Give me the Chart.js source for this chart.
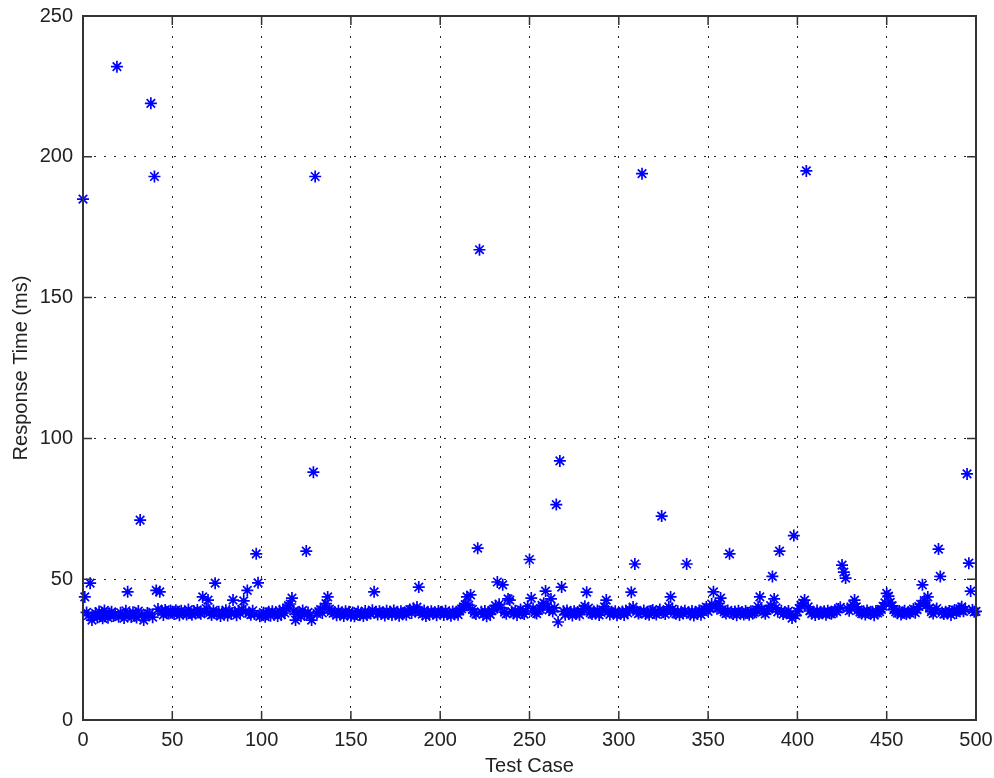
<!DOCTYPE html>
<html lang="en">
<head>
    <meta charset="UTF-8">
    <title>Response Time per Test Case</title>
    <script src="https://cdn.jsdelivr.net/npm/chart.js"></script>
    <style>
        body { margin: 0; background: #fff; }
    </style>
</head>
<body>
    <canvas id="responseChart" width="994" height="778"></canvas>

    <script>
        // response time (ms) for each test case, test case number = position in array
        const responseTimes = [
            185, 43.7, 38.2, 37.1, 48.6, 35.5, 36.8, 37.9, 36.4, 38.5, 37.2, 36.1, 38.9, 37.6, 36.3, 37.8, 38.4, 36.9, 37.3, 232, 36.7, 38.1, 37.4, 36.2, 38.8,
            45.5, 37.5, 36.6, 38.3, 37.0, 36.4, 38.7, 71, 37.2, 35.5, 36.9, 38.0, 37.7, 219, 36.5, 193, 46, 39.4, 45.5, 38.6, 37.3, 39.1, 38.2, 37.8, 38.9,
            38.1, 37.6, 39.0, 38.4, 37.2, 38.8, 37.9, 38.3, 37.5, 39.2, 38.0, 37.4, 38.6, 37.8, 39.1, 38.2, 37.7, 43.7, 38.5, 39.6, 42.6, 38.1, 37.3, 38.9, 48.6,
            37.6, 38.4, 36.9, 38.2, 37.5, 39.0, 37.1, 38.6, 37.8, 42.6, 38.3, 37.2, 38.7, 37.9, 39.3, 42.3, 38.5, 46, 38.0, 37.4, 38.8, 37.6, 59, 48.7, 36.8,
            37.2, 38.1, 36.7, 37.9, 38.4, 37.0, 38.6, 37.5, 38.2, 36.9, 38.8, 37.3, 39.1, 38.0, 39.8, 40.6, 41.2, 43.3, 38.7, 35.5, 37.6, 38.3, 36.8, 38.9, 37.4,
            60, 38.2, 37.1, 35.5, 88, 193, 37.8, 38.5, 39.2, 38.0, 40.1, 41.3, 43.7, 39.4, 38.6, 37.9, 38.3, 37.2, 38.8, 37.5, 38.1, 36.9, 38.6, 37.7, 38.4,
            37.0, 38.2, 36.8, 37.6, 38.5, 37.3, 38.0, 36.9, 38.7, 37.4, 38.1, 37.8, 39.0, 45.5, 38.3, 37.5, 38.6, 37.9, 38.2, 37.1, 38.8, 37.6, 38.4, 37.3, 38.9,
            37.7, 38.3, 37.0, 38.6, 37.9, 38.1, 37.4, 38.7, 39.2, 38.0, 39.6, 38.5, 40.1, 47.2, 38.4, 37.6, 38.9, 36.9, 38.2, 37.5, 38.6, 37.8, 38.3, 37.2, 38.7,
            37.9, 38.4, 37.3, 38.8, 37.6, 38.1, 37.0, 38.5, 37.8, 38.2, 37.4, 38.9, 39.5, 40.2, 41.0, 43.7, 40.8, 44.4, 39.3, 38.1, 37.6, 61, 167, 38.4, 37.5,
            38.7, 36.8, 38.2, 37.5, 38.9, 39.4, 40.6, 49, 41.1, 39.8, 48, 38.3, 37.7, 43.0, 42.6, 38.5, 37.9, 38.8, 37.3, 38.4, 39.2, 38.0, 37.6, 38.7, 40.4,
            57, 43.3, 39.6, 38.2, 37.8, 38.9, 39.4, 40.7, 41.5, 45.8, 40.3, 39.1, 43, 38.5, 39.8, 76.5, 34.8, 92, 47.2, 38.6, 37.4, 38.9, 37.7, 38.3, 37.1,
            38.6, 37.9, 38.2, 37.4, 38.8, 39.5, 40.4, 45.4, 39.7, 38.1, 37.6, 38.5, 37.8, 38.9, 37.3, 38.2, 39.1, 40.2, 42.6, 38.7, 37.5, 38.4, 37.9, 38.6, 37.2,
            38.1, 37.7, 38.5, 37.3, 38.8, 38.0, 39.3, 45.4, 40.1, 55.4, 38.6, 37.8, 38.3, 194, 38.9, 37.6, 38.2, 37.4, 38.7, 39.1, 38.0, 37.5, 38.4, 39.2, 72.4,
            38.3, 37.6, 38.9, 40.2, 43.7, 39.4, 38.1, 37.7, 38.6, 37.3, 38.4, 37.9, 38.8, 55.4, 38.2, 37.5, 38.7, 37.1, 38.3, 37.8, 38.9, 37.4, 38.5, 39.3, 40.1,
            38.6, 39.7, 41.2, 45.5, 40.3, 39.5, 41.4, 43.3, 39.2, 38.4, 37.8, 38.9, 59, 38.1, 37.6, 38.5, 37.2, 38.8, 37.9, 38.3, 37.5, 38.7, 38.0, 37.4, 38.6,
            37.8, 38.2, 39.1, 40.3, 43.7, 39.2, 38.5, 37.7, 38.9, 39.4, 40.6, 51, 43, 39.8, 38.4, 60, 38.8, 37.6, 38.3, 37.9, 38.7, 37.4, 36.2, 65.5, 37.1,
            38.5, 39.6, 40.8, 41.5, 42.6, 195, 40.2, 38.7, 37.8, 38.4, 37.3, 38.9, 37.6, 38.2, 37.9, 38.6, 37.4, 38.8, 38.1, 37.7, 38.3, 39.0, 38.5, 39.4, 40.0,
            55, 52.5, 50.4, 39.6, 38.8, 39.9, 41.0, 42.6, 40.2, 39.1, 38.3, 37.8, 38.6, 37.5, 38.9, 38.1, 37.7, 38.4, 37.2, 38.7, 38.0, 38.5, 39.3, 40.4, 41.6,
            45, 44, 41.8, 40.5, 39.2, 38.4, 37.9, 38.7, 37.5, 38.2, 38.8, 37.6, 38.3, 37.9, 38.6, 39.4, 38.1, 39.2, 40.3, 41.1, 48, 42.4, 40.6, 43.7, 39.8,
            38.5, 37.8, 38.9, 39.6, 60.7, 51, 38.2, 37.6, 38.4, 37.9, 38.7, 37.3, 38.5, 39.1, 38.0, 38.8, 39.5, 40.2, 38.6, 39.3, 87.4, 55.7, 45.8, 39.1, 38.4,
            38.6
        ];

        const xTicks = [0, 50, 100, 150, 200, 250, 300, 350, 400, 450, 500];
        const yTicks = [0, 50, 100, 150, 200, 250];

        const points = responseTimes.map((v, i) => ({ x: i, y: v }));

        // matlab style: box round the axes with ticks pointing inward on all four sides
        const boxAndTicks = {
            id: 'boxAndTicks',
            afterDraw(chart) {
                const { ctx, chartArea: a, scales } = chart;
                const len = 9;
                ctx.save();
                ctx.strokeStyle = '#333';
                ctx.lineWidth = 1.5;
                ctx.beginPath();
                xTicks.forEach((t) => {
                    const px = scales.x.getPixelForValue(t);
                    ctx.moveTo(px, a.bottom); ctx.lineTo(px, a.bottom - len);
                    ctx.moveTo(px, a.top); ctx.lineTo(px, a.top + len);
                });
                yTicks.forEach((t) => {
                    const py = scales.y.getPixelForValue(t);
                    ctx.moveTo(a.left, py); ctx.lineTo(a.left + len, py);
                    ctx.moveTo(a.right, py); ctx.lineTo(a.right - len, py);
                });
                ctx.stroke();
                ctx.lineWidth = 2;
                ctx.strokeRect(a.left, a.top, a.right - a.left, a.bottom - a.top);
                ctx.restore();
            }
        };

        const font = { family: 'Liberation Sans, Arial, sans-serif', size: 20 };

        new Chart(document.getElementById('responseChart').getContext('2d'), {
            type: 'scatter',
            data: {
                datasets: [{
                    label: 'Response Time',
                    data: points,
                    pointStyle: 'star',
                    pointRadius: 6,
                    borderWidth: 1.7,
                    borderColor: '#0000ff',
                    backgroundColor: '#0000ff',
                    clip: false
                }]
            },
            options: {
                responsive: false,
                animation: false,
                layout: { padding: { top: 16, right: 18, left: 0, bottom: 0 } },
                plugins: {
                    legend: { display: false },
                    tooltip: { enabled: false }
                },
                scales: {
                    x: {
                        type: 'linear',
                        min: 0,
                        max: 500,
                        afterFit: (s) => { s.height = 58; s.paddingLeft = 0; s.paddingRight = 0; },
                        afterBuildTicks: (s) => { s.ticks = xTicks.map((v) => ({ value: v })); },
                        ticks: { font, color: '#222', padding: 8, maxRotation: 0 },
                        grid: { color: '#222', lineWidth: 1, drawTicks: false },
                        border: { color: '#333', width: 2, dash: [2, 8] },
                        title: { display: true, text: 'Test Case', font, color: '#222', padding: { top: 0, bottom: 0 } }
                    },
                    y: {
                        min: 0,
                        max: 250,
                        afterFit: (s) => { s.width = 83; s.paddingTop = 0; s.paddingBottom = 0; },
                        afterBuildTicks: (s) => { s.ticks = yTicks.map((v) => ({ value: v })); },
                        ticks: { font, color: '#222', padding: 10 },
                        grid: { color: '#222', lineWidth: 1, drawTicks: false },
                        border: { color: '#333', width: 2, dash: [2, 8] },
                        title: { display: true, text: 'Response Time (ms)', font, color: '#222', padding: { top: 9, bottom: 0 } }
                    }
                }
            },
            plugins: [boxAndTicks]
        });
    </script>
</body>
</html>
